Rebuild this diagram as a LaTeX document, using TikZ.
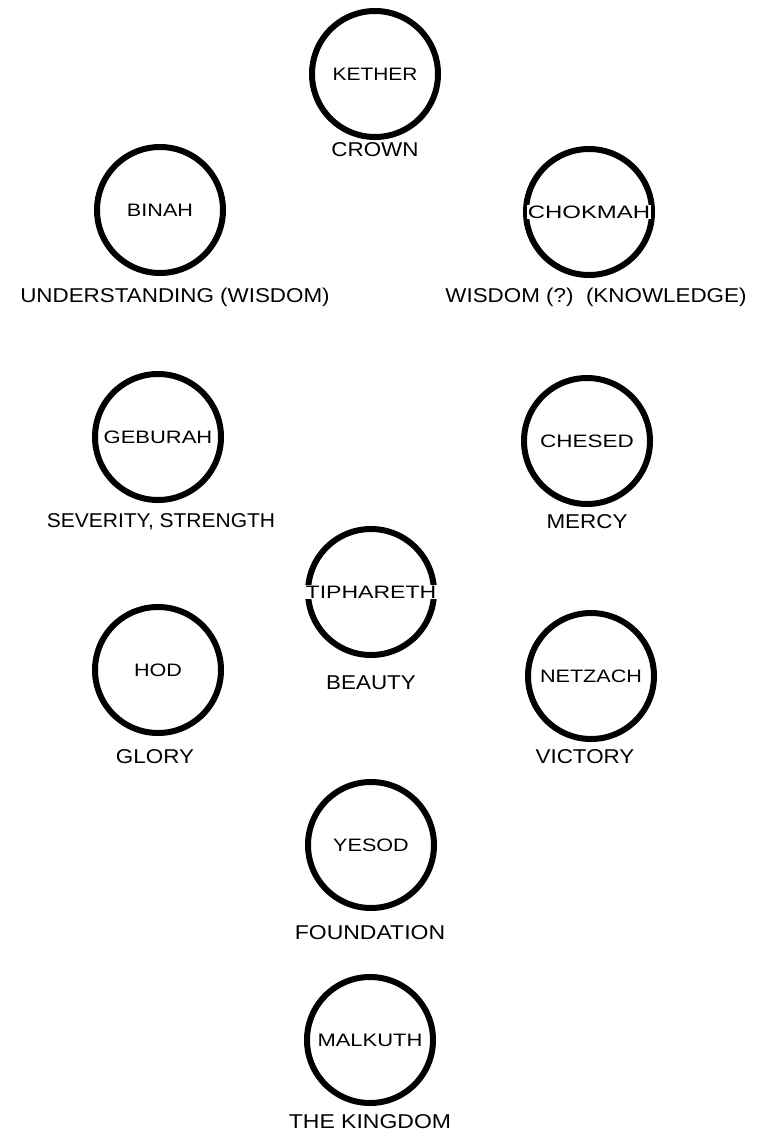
\documentclass[tikz,border=0pt]{standalone}
\usepackage{fontspec}
\setmainfont{Liberation Sans}
\newcommand\sephwide[2]{\scalebox{#1}[1]{#2}}
\tikzset{
  ring/.style={circle, draw=black, line width=6pt, minimum size=126pt, inner sep=0pt},
  sname/.style={fill=white, inner sep=1pt, font=\fontsize{18}{20}\selectfont},
  smean/.style={inner sep=0pt, font=\fontsize{20}{22}\selectfont},
}
\begin{document}
\begin{tikzpicture}[x=1pt,y=-1pt]
\useasboundingbox (0,0) rectangle (765,1135);
% circles
\node[ring] (kether)    at (375,74)  {};
\node[ring] (binah)     at (160,210) {};
\node[ring] (chokmah)   at (589,212) {};
\node[ring] (geburah)   at (158,437) {};
\node[ring] (chesed)    at (587,441) {};
\node[ring] (tiphareth) at (371,592) {};
\node[ring] (hod)       at (158,670) {};
\node[ring] (netzach)   at (591,676) {};
\node[ring] (yesod)     at (371,845) {};
\node[ring] (malkuth)   at (370,1040) {};
% names
\node[sname] (tkether)    at (kether)    {\sephwide{1.16}{KETHER}};
\node[sname] (tbinah)     at (binah)     {\sephwide{1.2}{BINAH}};
\node[sname] (tchokmah)   at (chokmah)   {\sephwide{1.33}{CHOKMAH}};
\node[sname] (tgeburah)   at (geburah)   {\sephwide{1.22}{GEBURAH}};
\node[sname] (tchesed)    at (chesed)    {\sephwide{1.25}{CHESED}};
\node[sname] (ttiphareth) at (tiphareth) {\sephwide{1.28}{TIPHARETH}};
\node[sname] (thod)       at (hod)       {\sephwide{1.2}{HOD}};
\node[sname] (tnetzach)   at (netzach)   {\sephwide{1.2}{NETZACH}};
\node[sname] (tyesod)     at (yesod)     {\sephwide{1.2}{YESOD}};
\node[sname] (tmalkuth)   at (malkuth)   {\sephwide{1.22}{MALKUTH}};
% meanings
\node[smean] (mkether)    at (375,150)  {\sephwide{1.12}{CROWN}};
\node[smean] (mbinah)     at (175,297)  {\sephwide{1.12}{UNDERSTANDING (WISDOM)}};
\node[smean] (mchokmah)   at (596,297)  {\sephwide{1.12}{WISDOM (?)\ \ (KNOWLEDGE)}};
\node[smean] (mgeburah)   at (161,522)  {\sephwide{1.05}{SEVERITY, STRENGTH}};
\node[smean] (mchesed)    at (587,522)  {\sephwide{1.12}{MERCY}};
\node[smean] (mtiphareth) at (371,683)  {\sephwide{1.12}{BEAUTY}};
\node[smean] (mhod)       at (155,757)  {\sephwide{1.12}{GLORY}};
\node[smean] (mnetzach)   at (585,757)  {\sephwide{1.12}{VICTORY}};
\node[smean] (myesod)     at (370,933)  {\sephwide{1.15}{FOUNDATION}};
\node[smean] (mmalkuth)   at (370,1122) {\sephwide{1.15}{THE KINGDOM}};
\end{tikzpicture}
\end{document}
